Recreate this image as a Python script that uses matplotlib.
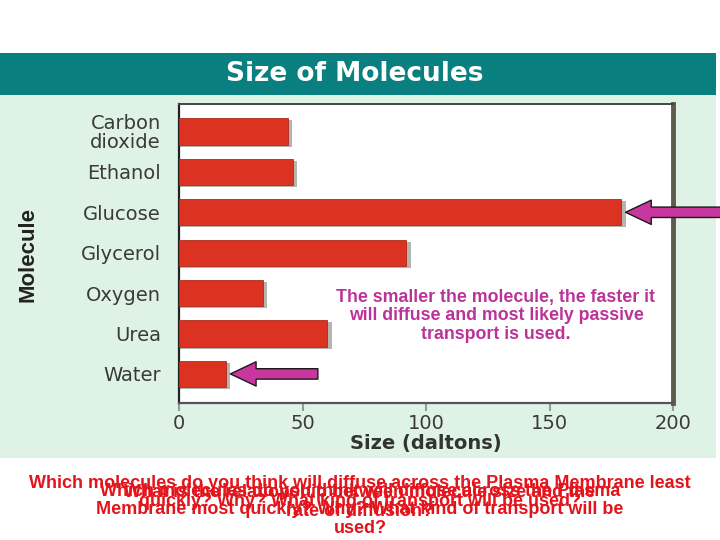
import matplotlib
matplotlib.use("Agg")
import matplotlib.pyplot as plt
from matplotlib.patches import Rectangle

# ---- data ----
molecules = ["Carbon\ndioxide", "Ethanol", "Glucose", "Glycerol", "Oxygen", "Urea", "Water"]
sizes = [44, 46, 179, 92, 34, 60, 19]
xticks = [0, 50, 100, 150, 200]
title = "Size of Molecules"
xlabel = "Size (daltons)"
ylabel = "Molecule"
note = "The smaller the molecule, the faster it\nwill diffuse and most likely passive\ntransport is used."
q1 = "Which molecules do you think will diffuse across the Plasma Membrane least\nquickly? Why? What kind of transport will be used?"
q2 = "What is the relationship between molecule size and the\nrate of diffusion?"
q3 = "Which molecules do you think will diffuse across the Plasma\nMembrane most quickly? Why? What kind of transport will be\nused?"

W, H = 720, 540
fig = plt.figure(figsize=(7.2, 5.4), dpi=100)
fig.patch.set_facecolor("white")

def fx(px):
    return px / W

def fy(py):
    return 1 - py / H

# slide panels
fig.patches.append(Rectangle((0, fy(458)), fx(716), fy(95) - fy(458),
                             transform=fig.transFigure, facecolor="#dff2e6",
                             edgecolor="none", zorder=-2))
fig.patches.append(Rectangle((0, fy(95)), fx(716), fy(53) - fy(95),
                             transform=fig.transFigure, facecolor="#0a7f80",
                             edgecolor="none", zorder=-2))
fig.text(fx(355), fy(74), title, color="white", fontsize=19, fontweight="bold",
         family="DejaVu Sans", ha="center", va="center")

ax = fig.add_axes([fx(179), fy(403), fx(673) - fx(179), fy(104) - fy(403)])
ax.set_zorder(1)
ax.set_facecolor("white")
ypos = list(range(len(molecules)))

# shadows then bars
ax.barh([y + 0.05 for y in ypos], [s + 1.8 for s in sizes], height=0.65,
        color="#b4b4b0", edgecolor="none", zorder=2)
ax.barh(ypos, sizes, height=0.65, color="#dc3222", edgecolor="#b02a1c",
        linewidth=0.6, zorder=3)

ax.set_xlim(0, 200)
ax.set_ylim(6.72, -0.68)
ax.set_xticks(xticks)
ax.set_xticklabels([str(t) for t in xticks], family="DejaVu Sans", fontsize=14,
                   color="#3a3a3a")
ax.set_yticks(ypos)
ax.set_yticklabels(molecules, family="DejaVu Sans", fontsize=14, color="#3a3a3a",
                   linespacing=1.0)
ax.tick_params(axis="y", length=0, pad=13)
ax.tick_params(axis="x", length=6, width=1.5, color="#999999", pad=2)
ax.set_xlabel(xlabel, family="DejaVu Sans", fontsize=14, fontweight="bold",
              color="#333333", labelpad=1)

for side, c, lw in [("left", "#222222", 1.6), ("top", "#444444", 1.4),
                    ("bottom", "#555555", 1.6), ("right", "#5e5a4c", 3.5)]:
    ax.spines[side].set_color(c)
    ax.spines[side].set_linewidth(lw)
ax.spines["top"].set_linestyle((0, (2, 1)))

fig.text(fx(28), fy(255), ylabel, rotation=90, fontsize=16, fontweight="bold",
         family="Liberation Sans", color="#222222", ha="center", va="center")

# arrows pointing at glucose (largest) and water (smallest)
arrow_style = "simple,head_width=1.75,head_length=1.85,tail_width=0.75"
imax = sizes.index(max(sizes))
imin = sizes.index(min(sizes))
ax.annotate("", xy=(sizes[imax] + 1.8, imax), xytext=(80, 0), textcoords="offset points",
            arrowprops=dict(arrowstyle=arrow_style, fc="#c8379e", ec="#1a1a1a", lw=1.0,
                            shrinkA=0, shrinkB=0),
            annotation_clip=False, zorder=6)
ax.annotate("", xy=(sizes[imin] + 1.8, imin), xytext=(63, 0), textcoords="offset points",
            arrowprops=dict(arrowstyle=arrow_style, fc="#c8379e", ec="#1a1a1a", lw=1.0,
                            shrinkA=0, shrinkB=0),
            annotation_clip=False, zorder=6)

ax.text((496 - 179) / 494, 1 - (316 - 104) / 299, note, transform=ax.transAxes,
        ha="center", va="center", color="#bb3399", fontsize=12.8, fontweight="bold",
        family="Liberation Sans", linespacing=1.15, zorder=7)

red = "#e3141b"
for txt, cy in [(q1, 492.5), (q2, 502), (q3, 510)]:
    fig.text(0.5, fy(cy), txt, ha="center", va="center", color=red, fontsize=13,
             fontweight="bold", family="Liberation Sans", linespacing=1.12)

fig.savefig("out.png", dpi=100)
